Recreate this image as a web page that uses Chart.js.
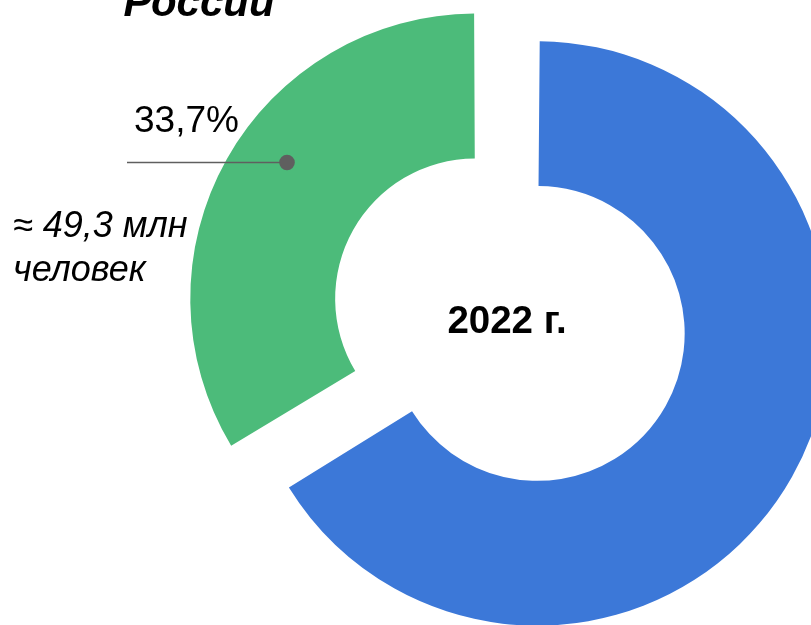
<!DOCTYPE html>
<html>
<head>
<meta charset="utf-8">
<script src="https://cdn.jsdelivr.net/npm/chart.js@4.4.0/dist/chart.umd.min.js"></script>
<style>
    html, body { margin: 0; padding: 0; background: #fff; }
    #wrap { width: 811px; height: 625px; }
</style>
</head>
<body>
<div id="wrap"><canvas id="donutChart" width="811" height="625"></canvas></div>
<script>
const categories = ['Остальное население', 'Целевая группа'];
const shares = [66.3, 33.7];
const sliceColors = ['#3c78d8', '#4cbb7a'];
const sliceOffsets = [61, 223];

const titleText = 'России';
const centerText = '2022 г.';
const shareLabel = '33,7%';
const peopleLabel = ['≈ 49,3 млн', 'человек'];

const fontFamily = "'Liberation Sans', Arial, sans-serif";

const textPlugin = {
    id: 'donutText',
    afterDatasetsDraw(chart) {
        const ctx = chart.ctx;
        ctx.save();
        ctx.fillStyle = '#000';
        ctx.textBaseline = 'alphabetic';

        ctx.textAlign = 'center';
        ctx.font = 'italic bold 42px ' + fontFamily;
        ctx.fillText(titleText, 199, 16);

        ctx.font = 'bold 38.5px ' + fontFamily;
        ctx.fillText(centerText, 507, 333);

        ctx.textAlign = 'left';
        ctx.font = '37px ' + fontFamily;
        ctx.fillText(shareLabel, 134, 132);

        ctx.font = 'italic 36px ' + fontFamily;
        ctx.fillText(peopleLabel[0], 13, 237);
        ctx.fillText(peopleLabel[1], 13, 281);

        // leader line to the green slice
        ctx.strokeStyle = '#5f5f5f';
        ctx.lineWidth = 1.5;
        ctx.beginPath();
        ctx.moveTo(127, 162.5);
        ctx.lineTo(287, 162.5);
        ctx.stroke();
        ctx.fillStyle = '#5f5f5f';
        ctx.beginPath();
        ctx.arc(287, 162.5, 7.8, 0, Math.PI * 2);
        ctx.fill();
        ctx.restore();
    }
};

new Chart(document.getElementById('donutChart').getContext('2d'), {
    type: 'doughnut',
    data: {
        labels: categories,
        datasets: [{
            data: shares,
            backgroundColor: sliceColors,
            offset: sliceOffsets,
            borderWidth: 0,
            clip: false
        }]
    },
    options: {
        responsive: false,
        animation: false,
        events: [],
        radius: 277,
        cutout: '47.7%',
        layout: {
            padding: { left: 237, right: 0, top: 27, bottom: 0 }
        },
        plugins: {
            legend: { display: false },
            title: { display: false },
            tooltip: { enabled: false }
        }
    },
    plugins: [textPlugin]
});
</script>
</body>
</html>
